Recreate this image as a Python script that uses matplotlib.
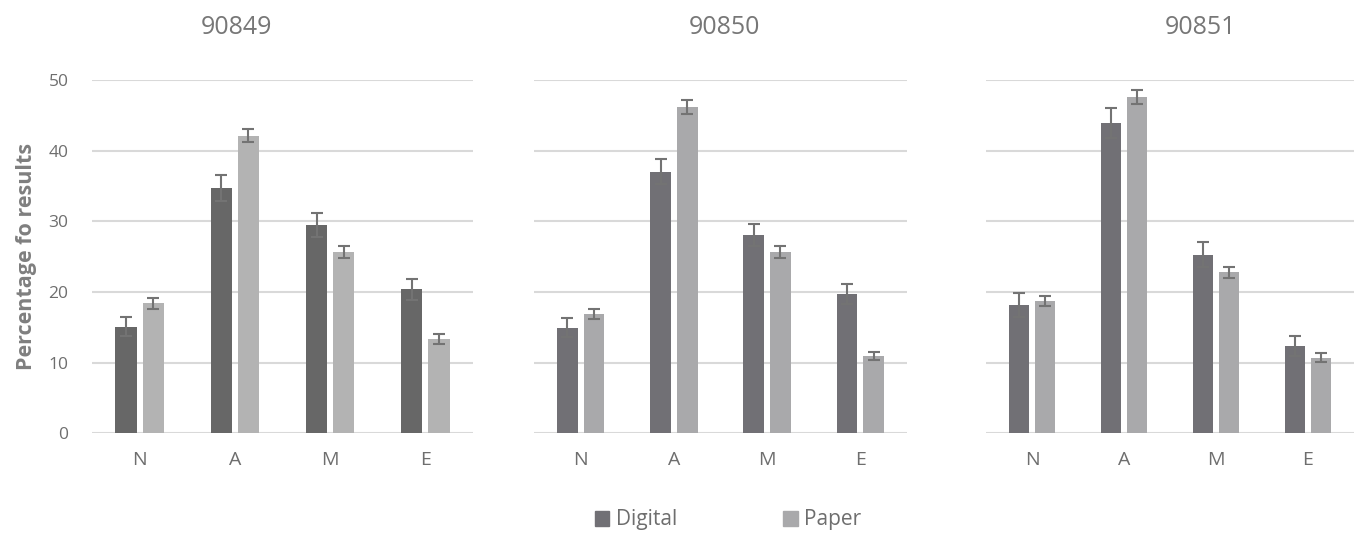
import matplotlib
matplotlib.use('Agg')
import matplotlib.pyplot as plt
import numpy as np
from matplotlib.patches import Patch

plt.rcParams['font.family'] = ['Open Sans', 'DejaVu Sans']

cats = ['N', 'A', 'M', 'E']
titles = ['90849', '90850', '90851']

# mean values per panel (Digital / Paper)
dig_90849 = [15.1, 34.7, 29.5, 20.4]
pap_90849 = [18.4, 42.1, 25.7, 13.4]
dig_90850 = [14.95, 37.0, 28.0, 19.7]
pap_90850 = [16.9, 46.2, 25.6, 10.9]
dig_90851 = [18.1, 43.9, 25.3, 12.4]
pap_90851 = [18.7, 47.6, 22.8, 10.7]

# error bar sizes
dig_err_90849 = [1.4, 1.8, 1.7, 1.5]
pap_err_90849 = [0.8, 0.9, 0.85, 0.7]
dig_err_90850 = [1.3, 1.75, 1.55, 1.4]
pap_err_90850 = [0.7, 0.95, 0.85, 0.57]
dig_err_90851 = [1.7, 2.1, 1.8, 1.4]
pap_err_90851 = [0.75, 0.95, 0.8, 0.6]

digital = [dig_90849, dig_90850, dig_90851]
paper = [pap_90849, pap_90850, pap_90851]
dig_err = [dig_err_90849, dig_err_90850, dig_err_90851]
pap_err = [pap_err_90849, pap_err_90850, pap_err_90851]

dig_cols = ['#676767', '#717075', '#717075']
pap_cols = ['#b3b3b3', '#a9a9ab', '#a9a9ab']

fig = plt.figure(figsize=(13.55, 5.33), dpi=100)
lefts = [92 / 1355, 534 / 1355, 986 / 1355]
widths = [381 / 1355, 373 / 1355, 368 / 1355]
title_x = [237 / 1355, 724 / 1355, 1201 / 1355]
bot = 1 - 433.3 / 533
h = (433.3 - 80) / 533

x = np.arange(len(cats))
w = 0.223
off = 0.143
txt = '#6e6e6e'
ekw = dict(ecolor='#737373', capsize=4, elinewidth=1.5, capthick=1.5)

for i in range(3):
    ax = fig.add_axes([lefts[i], bot, widths[i], h])
    ax.bar(x - off, digital[i], w, color=dig_cols[i], zorder=3, yerr=dig_err[i], error_kw=ekw)
    ax.bar(x + off, paper[i], w, color=pap_cols[i], zorder=3, yerr=pap_err[i], error_kw=ekw)
    ax.set_xlim(-0.5, 3.5)
    ax.set_ylim(0, 50)
    ax.set_yticks(range(0, 51, 10))
    ax.grid(axis='y', color='#d9d9d9', linewidth=1.5, zorder=0)
    for s in ax.spines.values():
        s.set_visible(False)
    ax.tick_params(length=0, colors=txt, labelsize=12.5)
    ax.tick_params(axis='x', pad=13, labelsize=14)
    ax.set_xticks(x)
    ax.set_xticklabels(cats)
    if i == 0:
        ax.tick_params(axis='y', pad=17)
        ax.set_ylabel('Percentage fo results', fontsize=15.5, fontweight='bold', color='#7f7f7f', labelpad=8)
    else:
        ax.set_yticklabels([])
    fig.text(title_x[i], 1 - 27 / 533, titles[i], fontsize=18, color='#777777', ha='center', va='center')

handles = [Patch(color='#717075', label='Digital'), Patch(color='#a9a9ab', label='Paper')]
fig.legend(handles=handles, loc='center', bbox_to_anchor=(728 / 1355, 1 - 520 / 533), ncol=2,
           frameon=False, fontsize=15, labelcolor=txt, handlelength=0.7, handleheight=0.7,
           handletextpad=0.3, columnspacing=5.1)

fig.savefig('out.png', dpi=100)
